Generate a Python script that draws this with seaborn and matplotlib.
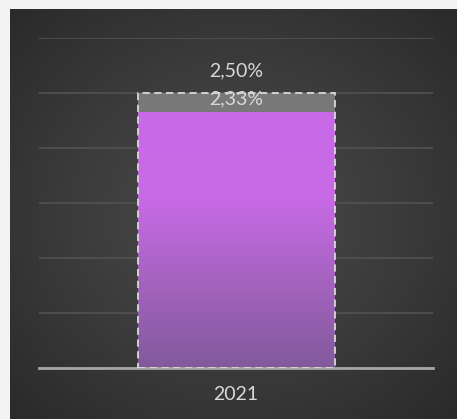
import numpy as np
import pandas as pd
import matplotlib
matplotlib.use("Agg")
import matplotlib.pyplot as plt
import seaborn as sns
from matplotlib.colors import LinearSegmentedColormap

# ---- data ----
years = ["2021"]
target_values = [2.50]
actual_values = [2.33]
target_labels = ["2,50%"]
actual_labels = ["2,33%"]

sns.set_theme(style="dark")
plt.rcParams["font.family"] = ["Lato", "DejaVu Sans"]

W, H = 457, 419
fig = plt.figure(figsize=(W / 100, H / 100), dpi=100)
fig.patch.set_facecolor("#f3f3f3")

# dark radial-gradient panel
bg = fig.add_axes([10 / W, 0, (W - 10) / W, (H - 9) / H])
bg.set_axis_off()
yy, xx = np.mgrid[-1:1:300j, -1:1:300j]
r = np.sqrt(xx ** 2 + yy ** 2) / np.sqrt(2)
bgcmap = LinearSegmentedColormap.from_list("bg", ["#4b4b4b", "#3c3c3c", "#2a2a2a"])
bg.imshow(r, cmap=bgcmap, aspect="auto", extent=[0, 1, 0, 1], vmin=0, vmax=1)

# main axes
x0, x1, ytop, ybase = 39, 433, 38, 368
ax = fig.add_axes([x0 / W, (H - ybase) / H, (x1 - x0) / W, (ybase - ytop) / H])
ax.set_facecolor("none")

df = pd.DataFrame({"year": years, "target": target_values, "actual": actual_values})

sns.barplot(data=df, x="year", y="target", color="#787878", width=0.5,
            saturation=1, ax=ax, zorder=2, linewidth=0)
sns.barplot(data=df, x="year", y="actual", color="#c86ae6", width=0.5,
            saturation=1, ax=ax, zorder=3, linewidth=0)
sns.barplot(data=df, x="year", y="target", width=0.5, fill=False,
            edgecolor="#d9d9d9", linewidth=1.3, linestyle=(0, (4, 2.5)),
            ax=ax, zorder=5)

# gradient fill for the actual bar
gcmap = LinearSegmentedColormap.from_list("g", ["#825a9c", "#a463bf", "#c86ae6", "#c96ae8"])
actual_patch = ax.containers[1].patches[0]
bx, by = actual_patch.get_x(), actual_patch.get_y()
bw, bh = actual_patch.get_width(), actual_patch.get_height()
grad = np.linspace(0, 1, 256).reshape(-1, 1)
im = ax.imshow(grad, cmap=gcmap, origin="lower", aspect="auto",
               extent=[bx, bx + bw, by, by + bh], zorder=3.5)
im.set_clip_path(actual_patch)

ax.set_xlim(-0.5, 0.5)
ax.set_ylim(0, 3.0)
ax.set_yticks(np.arange(0, 3.01, 0.5))
ax.yaxis.grid(True, color="#525252", linewidth=1.2, zorder=0)
ax.xaxis.grid(False)
ax.set_yticklabels([])
ax.tick_params(axis="y", length=0)
ax.tick_params(axis="x", length=0, colors="#d9d9d9", labelsize=14, pad=13)
ax.set_xlabel("")
ax.set_ylabel("")
for s in ["top", "right", "left"]:
    ax.spines[s].set_visible(False)
ax.spines["bottom"].set_color("#a6a6a6")
ax.spines["bottom"].set_linewidth(2)
ax.spines["bottom"].set_zorder(4)

ax.bar_label(ax.containers[0], labels=target_labels, padding=10,
             color="#d9d9d9", fontsize=14, zorder=6)
ax.bar_label(ax.containers[1], labels=actual_labels, padding=3,
             color="#d9d9d9", fontsize=14, zorder=6)

fig.savefig("out.png", dpi=100, facecolor=fig.get_facecolor())
